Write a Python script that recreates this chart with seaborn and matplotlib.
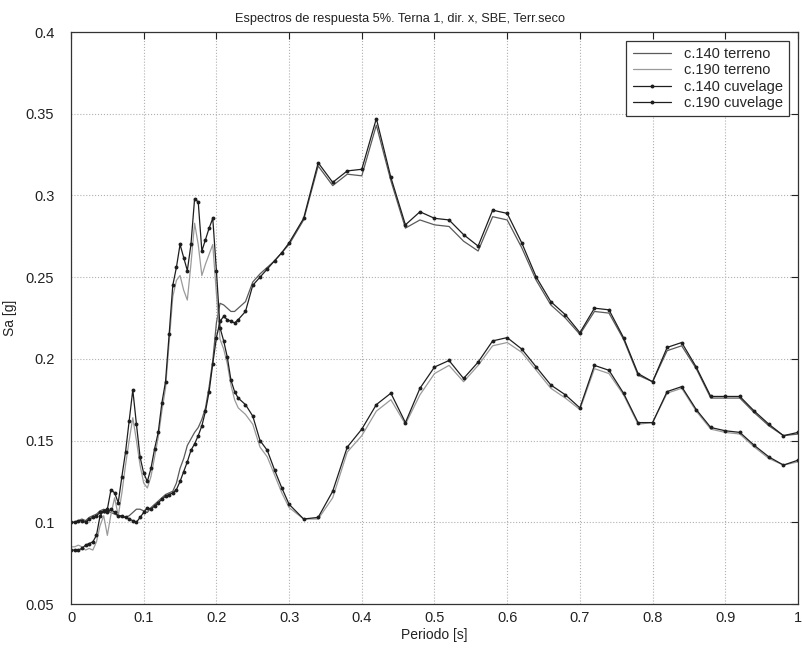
import numpy as np
import pandas as pd
import matplotlib
matplotlib.use("Agg")
import matplotlib.pyplot as plt
import seaborn as sns

# periods [s]: dense up to 0.23, then 0.01, then 0.02 steps
periodo = ([round(0.005 * i, 3) for i in range(47)]
           + [0.24, 0.25, 0.26, 0.27, 0.28, 0.29, 0.30]
           + [round(0.32 + 0.02 * i, 2) for i in range(35)])

# c.140 (long period peak at 0.42 s)
c140_terreno = [0.100, 0.100, 0.101, 0.102, 0.101, 0.103, 0.104, 0.105, 0.107, 0.108,
                0.107, 0.106, 0.105, 0.104, 0.103, 0.103, 0.104, 0.106, 0.108, 0.108,
                0.107, 0.106, 0.109, 0.111, 0.113, 0.115, 0.117, 0.118, 0.119, 0.124,
                0.133, 0.139, 0.147, 0.151, 0.155, 0.158, 0.163, 0.170, 0.183, 0.199,
                0.222, 0.234, 0.233, 0.231, 0.229, 0.229, 0.231,
                0.235, 0.247, 0.252, 0.256, 0.260, 0.265, 0.270,
                0.285, 0.318, 0.306, 0.313, 0.312, 0.343, 0.309, 0.280, 0.285, 0.282,
                0.281, 0.272, 0.266, 0.287, 0.285, 0.268, 0.248, 0.233, 0.225, 0.215,
                0.229, 0.228, 0.212, 0.190, 0.186, 0.205, 0.208, 0.194, 0.176, 0.176,
                0.176, 0.167, 0.159, 0.153, 0.154]
c140_cuvelage = [0.100, 0.100, 0.101, 0.101, 0.100, 0.102, 0.103, 0.104, 0.106, 0.107,
                 0.106, 0.108, 0.106, 0.104, 0.104, 0.103, 0.102, 0.101, 0.100, 0.103,
                 0.106, 0.109, 0.108, 0.110, 0.112, 0.114, 0.116, 0.117, 0.118, 0.120,
                 0.125, 0.131, 0.137, 0.144, 0.148, 0.153, 0.159, 0.168, 0.180, 0.197,
                 0.213, 0.223, 0.226, 0.224, 0.223, 0.222, 0.224,
                 0.229, 0.245, 0.250, 0.255, 0.260, 0.265, 0.271,
                 0.286, 0.320, 0.308, 0.315, 0.316, 0.347, 0.311, 0.282, 0.290, 0.286,
                 0.285, 0.276, 0.269, 0.291, 0.289, 0.271, 0.250, 0.235, 0.227, 0.216,
                 0.231, 0.230, 0.213, 0.191, 0.186, 0.207, 0.210, 0.195, 0.177, 0.177,
                 0.177, 0.168, 0.160, 0.153, 0.155]

# c.190 (short period peak at 0.17 s)
c190_terreno = [0.085, 0.085, 0.086, 0.085, 0.083, 0.084, 0.083, 0.088, 0.098, 0.104,
                0.092, 0.105, 0.115, 0.104, 0.118, 0.135, 0.150, 0.164, 0.150, 0.135,
                0.124, 0.121, 0.128, 0.140, 0.152, 0.168, 0.182, 0.210, 0.238, 0.248,
                0.251, 0.242, 0.236, 0.258, 0.283, 0.270, 0.251, 0.258, 0.264, 0.270,
                0.240, 0.212, 0.206, 0.197, 0.184, 0.175, 0.170,
                0.166, 0.160, 0.146, 0.140, 0.129, 0.118, 0.109,
                0.102, 0.102, 0.115, 0.143, 0.153, 0.168, 0.175, 0.160, 0.178, 0.191,
                0.196, 0.186, 0.196, 0.208, 0.210, 0.204, 0.193, 0.182, 0.176, 0.169,
                0.194, 0.191, 0.178, 0.160, 0.161, 0.179, 0.182, 0.168, 0.157, 0.155,
                0.154, 0.146, 0.139, 0.135, 0.137]
c190_cuvelage = [0.083, 0.083, 0.083, 0.084, 0.086, 0.087, 0.088, 0.092, 0.104, 0.107,
                 0.108, 0.120, 0.118, 0.112, 0.128, 0.143, 0.162, 0.181, 0.160, 0.140,
                 0.130, 0.125, 0.133, 0.145, 0.155, 0.173, 0.186, 0.215, 0.245, 0.256,
                 0.270, 0.262, 0.254, 0.270, 0.298, 0.296, 0.266, 0.273, 0.280, 0.286,
                 0.254, 0.219, 0.211, 0.201, 0.187, 0.180, 0.176,
                 0.172, 0.165, 0.150, 0.144, 0.132, 0.121, 0.111,
                 0.102, 0.103, 0.119, 0.146, 0.157, 0.172, 0.179, 0.161, 0.182, 0.195,
                 0.199, 0.188, 0.198, 0.211, 0.213, 0.206, 0.195, 0.184, 0.178, 0.170,
                 0.196, 0.193, 0.179, 0.161, 0.161, 0.180, 0.183, 0.169, 0.158, 0.156,
                 0.155, 0.147, 0.140, 0.135, 0.138]

x_ticks = [0, 0.1, 0.2, 0.3, 0.4, 0.5, 0.6, 0.7, 0.8, 0.9, 1]
x_labels = ["0", "0.1", "0.2", "0.3", "0.4", "0.5", "0.6", "0.7", "0.8", "0.9", "1"]
y_ticks = [0.05, 0.1, 0.15, 0.2, 0.25, 0.3, 0.35, 0.4]
y_labels = ["0.05", "0.1", "0.15", "0.2", "0.25", "0.3", "0.35", "0.4"]

sns.set_style("white")
plt.rcParams["font.family"] = ["Liberation Sans", "DejaVu Sans"]

fig = plt.figure(figsize=(8.03, 6.52), dpi=100)
ax = fig.add_axes([71 / 803, 1 - 604 / 652, 727 / 803, 572 / 652])

series = [
    ("c.140 terreno", c140_terreno, "#5a5a5a", None),
    ("c.190 terreno", c190_terreno, "#9a9a9a", None),
    ("c.140 cuvelage", c140_cuvelage, "#1e1e1e", "o"),
    ("c.190 cuvelage", c190_cuvelage, "#1e1e1e", "o"),
]
for name, vals, col, mk in series:
    df = pd.DataFrame({"Periodo": periodo, "Sa": vals})
    sns.lineplot(data=df, x="Periodo", y="Sa", ax=ax, color=col, linewidth=0.9,
                 marker=mk, markersize=2.8, markeredgewidth=0, label=name,
                 estimator=None, sort=False)

ax.set_xlim(0, 1)
ax.set_ylim(0.05, 0.4)
ax.set_xticks(x_ticks)
ax.set_xticklabels(x_labels)
ax.set_yticks(y_ticks)
ax.set_yticklabels(y_labels)
ax.grid(True, linestyle=":", color="#b0b0b0", linewidth=0.8)
ax.tick_params(direction="in", length=5, width=0.8, top=True, right=True,
               labelsize=10.5, colors="#222222")
ax.tick_params(axis="y", pad=12)
ax.tick_params(axis="x", pad=5)
for sp in ax.spines.values():
    sp.set_visible(True)
    sp.set_color("#333333")
    sp.set_linewidth(0.9)

ax.set_xlabel("Periodo [s]", fontsize=10, color="#222222", labelpad=2)
ax.set_ylabel("Sa [g]", fontsize=10, color="#222222", labelpad=6)
ax.set_title("Espectros de respuesta 5%. Terna 1, dir. x, SBE, Terr.seco",
             fontsize=9.2, color="#222222", pad=7, x=(400 - 71) / 727)

leg = ax.legend(loc="upper right", fontsize=10.5, frameon=True, fancybox=False,
                edgecolor="#333333", framealpha=1, handlelength=2.6,
                borderaxespad=0.6, labelspacing=0.15, borderpad=0.45,
                handletextpad=0.9, markerscale=1.0)
leg.get_frame().set_linewidth(0.9)

fig.savefig("out.png", dpi=100)
